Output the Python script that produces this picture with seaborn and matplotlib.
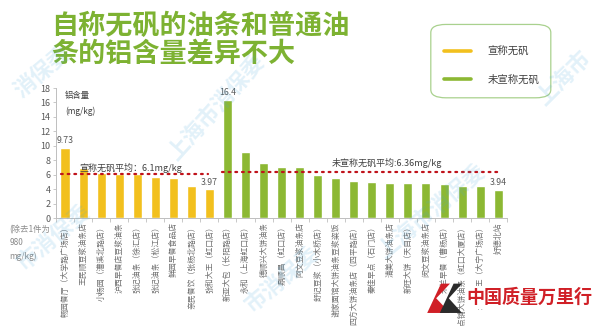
import matplotlib
matplotlib.use("Agg")
import matplotlib.pyplot as plt
import seaborn as sns
import pandas as pd
import numpy as np
from matplotlib.patches import FancyBboxPatch, Polygon
from matplotlib.lines import Line2D

# Youtiao shops: claimed alum-free (宣称无矾) vs. not claimed (未宣称无矾)
shops_claimed = [
    "畅园餐厅（大学路广场店）", "王民顺豆浆油条店", "小杨园（漕溪北路店）",
    "沪西早餐店豆浆油条", "张记油条（徐汇店）", "张记油条（松江店）",
    "鲜园早餐食品店", "亲民餐饮（张杨北路店）", "张和大王（虹口店）",
]
values_claimed = [9.73, 7.0, 6.2, 6.15, 6.1, 5.75, 5.6, 4.5, 3.97]

shops_plain = [
    "新亚大包（长阳路店）", "永和（上海虹口店）", "德顺兴大饼油条",
    "鼎顺昌（虹口店）", "阿文豆浆油条店", "舒记豆浆（小木桥店）",
    "谢家面馆大饼油条豆浆粢饭", "四方大饼油条店（四平路店）", "秦佳早点（石门店）",
    "清美大饼油条店", "新旺大饼（天目店）", "闵文豆浆油条店",
    "米兰早餐（曹杨店）", "早点铺大饼油条（虹口大厦店）", "永和大王（大宁广场店）",
    "好德北站",
]
values_plain = [16.4, 9.2, 7.6, 7.1, 7.1, 5.9, 5.5, 5.2, 5.0, 4.9, 4.8, 4.8,
                4.7, 4.4, 4.4, 3.94]

groups = ["宣称无矾", "未宣称无矾"]
avg_claimed = 6.1
avg_plain = 6.36
yticks = list(range(0, 19, 2))

YELLOW = "#f2c01e"
GREEN = "#8cb833"
TITLE_GREEN = "#7db232"
DOT_RED = "#c0121a"
GRAY = "#595959"

df = pd.DataFrame({
    "shop": shops_claimed + shops_plain,
    "value": values_claimed + values_plain,
    "group": [groups[0]] * len(shops_claimed) + [groups[1]] * len(shops_plain),
})

sns.set_theme(style="white")
plt.rcParams["font.family"] = ["Noto Sans CJK SC", "DejaVu Sans"]

fig = plt.figure(figsize=(6.0, 3.26), dpi=100)
ax = fig.add_axes([0.0933, 0.331, 0.752, 0.399])

sns.barplot(data=df, x="shop", y="value", hue="group", palette=[YELLOW, GREEN],
            dodge=False, width=0.5, legend=False, ax=ax, saturation=1)

n = len(df)
ax.set_xlim(-0.5, n - 0.5)
ax.set_ylim(0, 18)
ax.set_yticks(yticks)
ax.set_yticklabels([str(t) for t in yticks], fontsize=6.5, color=GRAY)
ax.set_xlabel("")
ax.set_ylabel("")
ax.set_xticks(range(n))
ax.set_xticklabels(df["shop"], rotation=90, fontsize=5.7, color="#707070",
                   va="top", ha="center")
ax.set_xticks(np.arange(-0.5, n, 1), minor=True)
ax.tick_params(axis="x", which="major", length=0, pad=3)
ax.tick_params(axis="x", which="minor", length=3, color="#bfbfbf", width=0.6,
               direction="out", bottom=True)
ax.tick_params(axis="y", length=2, color="#bfbfbf", width=0.6, pad=2, left=True)
for side in ["top", "right"]:
    ax.spines[side].set_visible(False)
for side in ["left", "bottom"]:
    ax.spines[side].set_color("#bfbfbf")
    ax.spines[side].set_linewidth(0.7)
ax.set_facecolor("none")

# value labels on selected bars
for idx in [0, len(shops_claimed) - 1, len(shops_claimed), n - 1]:
    v = df["value"].iloc[idx]
    ax.text(idx, v + 0.35, f"{v:g}", ha="center", va="bottom", fontsize=6.3,
            color=GRAY)

# group averages as dotted lines
k = len(shops_claimed)
ax.plot([-0.2, k - 1.1], [avg_claimed] * 2, color=DOT_RED, lw=1.6,
        ls=(0, (0.8, 2.2)), dash_capstyle="round")
ax.plot([k - 0.3, n - 0.9], [avg_plain] * 2, color=DOT_RED, lw=1.6,
        ls=(0, (0.8, 2.2)), dash_capstyle="round")
ax.text(0.8, avg_claimed + 0.15, f"宣称无矾平均：{avg_claimed}mg/kg", fontsize=6.5,
        color="#404040", va="bottom", ha="left")
ax.text(14.8, avg_plain + 0.55, f"未宣称无矾平均:{avg_plain}mg/kg", fontsize=6.5,
        color="#404040", va="bottom", ha="left")

# axis unit
ax.text(0.0, 17.6, "铝含量\n(mg/kg)", fontsize=6, color="#404040", va="top",
        ha="left", linespacing=1.9)

# excluded sample note
fig.text(0.016, 0.255, "(除去1件为\n980\nmg/kg)", fontsize=6, color="#8a8a8a",
         va="center", ha="left", linespacing=1.6)

# title
fig.text(0.085, 0.877, "自称无矾的油条和普通油\n条的铝含量差异不大", fontsize=19.5,
         fontweight="bold", color=TITLE_GREEN, va="center", ha="left",
         linespacing=1.0)

# legend box
box = FancyBboxPatch((0.718, 0.70), 0.200, 0.225,
                     boxstyle="round,pad=0,rounding_size=0.025",
                     transform=fig.transFigure, facecolor="white",
                     edgecolor="#a9d18e", linewidth=0.9)
fig.patches.append(box)
for yy, col, lab in [(0.843, YELLOW, groups[0]), (0.757, GREEN, groups[1])]:
    fig.lines.append(Line2D([0.740, 0.785], [yy, yy], transform=fig.transFigure,
                            color=col, lw=2.6))
    fig.text(0.812, yy, lab, fontsize=7.5, color="#404040", va="center",
             ha="left")

# watermark
wm_color = "#4aa8dc"
for (x, y, s, r) in [(0.36, 0.67, "上海市消保委", 48), (0.07, 0.78, "消保委", 40),
                     (0.09, 0.27, "市消保委", 40), (0.47, 0.14, "市消保委", 40),
                     (0.72, 0.35, "上海市消保委", 40), (0.94, 0.76, "上海市", 45)]:
    fig.text(x, y, s, fontsize=16, fontweight="bold", color=wm_color, alpha=0.16,
             rotation=r, ha="center", va="center")

# publisher mark
fig.patches.append(Polygon([[0.712, 0.040], [0.735, 0.130], [0.750, 0.130],
                            [0.727, 0.085], [0.750, 0.040]],
                           closed=True, transform=fig.transFigure,
                           facecolor="#d01f26", edgecolor="none"))
fig.patches.append(Polygon([[0.733, 0.040], [0.756, 0.130], [0.770, 0.130],
                            [0.748, 0.085], [0.770, 0.040]],
                           closed=True, transform=fig.transFigure,
                           facecolor="#2b2b2b", edgecolor="none"))
fig.text(0.778, 0.088, "中国质量万里行", fontsize=13, fontweight="bold",
         color="#d01f26", va="center", ha="left",
         bbox=dict(facecolor="white", edgecolor="none", pad=1.5))

fig.savefig("out.png", dpi=100, facecolor="white")
